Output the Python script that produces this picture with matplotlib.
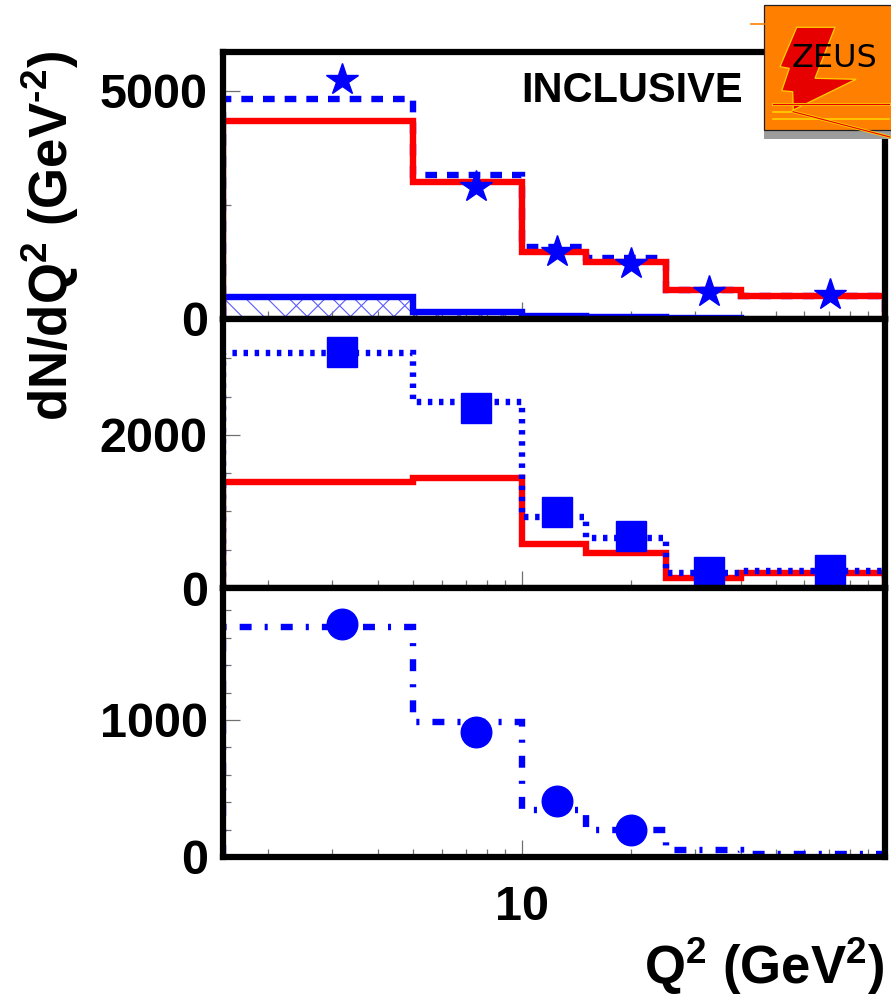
import matplotlib
matplotlib.use("Agg")
import numpy as np
import matplotlib.pyplot as plt
from matplotlib.ticker import FixedLocator, NullFormatter, FixedFormatter
from matplotlib.patches import Polygon, Rectangle
from matplotlib.collections import LineCollection
from matplotlib.transforms import IdentityTransform

plt.rcParams['font.family'] = ['Liberation Sans', 'DejaVu Sans']
plt.rcParams['font.weight'] = 'bold'
plt.rcParams['mathtext.fontset'] = 'custom'
plt.rcParams['mathtext.rm'] = 'Liberation Sans:bold'
plt.rcParams['mathtext.it'] = 'Liberation Sans:bold'
plt.rcParams['mathtext.bf'] = 'Liberation Sans:bold'
plt.rcParams['mathtext.default'] = 'rm'
plt.rcParams['lines.scale_dashes'] = False

# Q^2 binning (GeV^2)
q2_edges = [1.5, 5, 10, 15, 25, 40, 100]
q2_points = [3.2, 7.46, 12.5, 20.0, 32.7, 70.5]

# Inclusive sample
incl_data = [5240, 2900, 1476, 1206, 600, 526]
incl_mc_dashed = [4825, 3158, 1579, 1344, 636, 511]
incl_mc_red = [4349, 3011, 1476, 1257, 636, 511]
incl_bkg_edges = [1.5, 5, 10, 15, 25, 40]
incl_bkg = [489, 150, 70, 50, 30]

# Middle sample
mid_data = [3089, 2349, 990, 680, 213, 235]
mid_mc_dotted = [3068, 2435, 932, 657, 200, 226]
mid_mc_red = [1382, 1442, 575, 454, 135, 192]

# Lower sample
low_points = [3.2, 7.46, 12.5, 20.0]
low_data = [1699, 910, 407, 197]
low_mc_dashdot = [1681, 988, 343, 197, 51, 22]

BLUE = '#0000ff'
RED = '#ff0000'
W, H = 891, 1002

fig = plt.figure(figsize=(W / 100, H / 100), dpi=100)


def rect(l, t, r, b):
    return [l / W, 1 - b / H, (r - l) / W, (b - t) / H]


ax1 = fig.add_axes(rect(223, 52, 885, 319))
ax2 = fig.add_axes(rect(223, 319, 885, 588))
ax3 = fig.add_axes(rect(223, 588, 885, 857))

ylims = [5855, 3516, 1963]
ymajor = [[0, 5000], [0, 2000], [0, 1000]]
yminor = [[2500], [500, 1000, 1500, 2500, 3000],
          [200, 400, 600, 800, 1200, 1400, 1600, 1800]]
xminor = [2, 3, 4, 5, 6, 7, 8, 9, 20, 30, 40, 50, 60, 70, 80, 90]

for ax, yl, ymj, ymn in zip([ax1, ax2, ax3], ylims, ymajor, yminor):
    ax.set_xscale('log')
    ax.set_xlim(q2_edges[0], q2_edges[-1])
    ax.set_ylim(0, yl)
    ax.yaxis.set_major_locator(FixedLocator(ymj))
    ax.yaxis.set_minor_locator(FixedLocator(ymn))
    ax.yaxis.set_major_formatter(FixedFormatter([str(v) for v in ymj]))
    ax.yaxis.set_minor_formatter(NullFormatter())
    ax.xaxis.set_major_locator(FixedLocator([10]))
    ax.xaxis.set_minor_locator(FixedLocator(xminor))
    ax.xaxis.set_major_formatter(FixedFormatter(['10']))
    ax.xaxis.set_minor_formatter(NullFormatter())
    ax.tick_params(which='both', direction='in', color='#707070', width=0.9,
                   top=False, right=False, labelsize=35)
    ax.tick_params(which='major', length=12.5)
    ax.tick_params(which='minor', length=5.5)
    ax.tick_params(axis='y', pad=11)
    ax.tick_params(axis='x', pad=20)
    for s in ax.spines.values():
        s.set_linewidth(4.5)
        s.set_color('black')
        s.set_zorder(6)
    ax.set_facecolor('white')

ax1.tick_params(axis='x', labelbottom=False)
ax2.tick_params(axis='x', labelbottom=False)

# Inclusive panel: background histogram with a fine cross-hatch
bkg_fill = ax1.stairs(incl_bkg, incl_bkg_edges, fill=True, facecolor='none',
                      edgecolor='none', linewidth=0, zorder=1)
pitch = 21.7
segs = []
for x0 in np.arange(-400, W + 400, pitch):
    segs.append([(x0, 0), (x0 + H, H)])
    segs.append([(x0, H), (x0 + H, 0)])
hatch_lines = LineCollection(segs, colors='#5a5aff', linewidths=0.8,
                             transform=IdentityTransform(), zorder=1)
ax1.add_collection(hatch_lines, autolim=False)
hatch_lines.set_clip_path(bkg_fill)

ax1.stairs(incl_bkg, incl_bkg_edges, color=BLUE, linewidth=4.6, zorder=3)
ax1.stairs(incl_mc_red, q2_edges, color=RED, linewidth=4.6, zorder=3)
ax1.stairs(incl_mc_dashed, q2_edges, color=BLUE, linewidth=4.6,
           linestyle=(0, (8.4, 7.2)), zorder=2)
ax1.plot(q2_points, incl_data, linestyle='none', marker='*', markersize=24,
         color=BLUE, zorder=5)
ax1.text(0.785, 0.855, 'INCLUSIVE', transform=ax1.transAxes, fontsize=30,
         fontweight='bold', ha='right', va='center')

# Middle panel
ax2.stairs(mid_mc_red, q2_edges, color=RED, linewidth=4.6, zorder=2)
ax2.stairs(mid_mc_dotted, q2_edges, color=BLUE, linewidth=4.6,
           linestyle=(0, (3.2, 4.8)), zorder=3)
ax2.plot(q2_points, mid_data, linestyle='none', marker='s', markersize=21,
         color=BLUE, zorder=5)

# Lower panel
ax3.stairs(low_mc_dashdot, q2_edges, color=BLUE, linewidth=4.6,
           linestyle=(0, (8.6, 9.4, 2.2, 9.4)), zorder=3)
ax3.plot(low_points, low_data, linestyle='none', marker='o', markersize=22,
         color=BLUE, zorder=5)

# Axis titles
fig.text(50 / W, 1 - 236 / H, r'dN/dQ$^{2}$ (GeV$^{\text{-}2}$)', rotation=90,
         ha='center', va='center', fontsize=38, fontweight='bold')
fig.text(885 / W, 1 - 997 / H, r'Q$^{2}$ (GeV$^{2}$)', ha='right',
         va='bottom', fontsize=38, fontweight='bold')

# ZEUS logo
ov = fig.add_axes([0, 0, 1, 1], zorder=10)
ov.set_xlim(0, W)
ov.set_ylim(H, 0)
ov.axis('off')
ov.plot([751, 764], [24, 24], color='#ff8000', lw=1.2)
ov.add_patch(Rectangle((764, 130), 130, 9, facecolor='#9c9c9c', edgecolor='none'))
ov.add_patch(Rectangle((764, 5), 130, 125, facecolor='#ff8000',
                       edgecolor='#202020', lw=0.9))
bolt = [(796.7, 27.3), (835, 27.3), (815, 78.3), (856, 79.3), (793.3, 110),
        (792.7, 91.7), (781.7, 90.7), (789.3, 68.3), (780, 66.7)]
ov.add_patch(Polygon(bolt, closed=True, facecolor='#e60000',
                     edgecolor='#ffd000', lw=0.9))
ov.plot([773, 889], [104, 104], color='#ffd000', lw=2.2)
ov.plot([773, 889], [104, 104], color='#e60000', lw=0.9)
ov.plot([773, 793], [111.7, 111.7], color='#ffd000', lw=1.2)
ov.plot([773, 889], [119, 119], color='#ffd000', lw=1.2)
ov.plot([793, 890], [111.7, 137], color='#ffd000', lw=2.0)
ov.plot([793, 890], [111.7, 137], color='#e60000', lw=0.8)
ov.text(834.5, 58, 'ZEUS', ha='center', va='center', fontsize=23,
        fontfamily='DejaVu Sans', fontweight='normal', color='black',
        zorder=20)

fig.savefig('out.png', dpi=100)
